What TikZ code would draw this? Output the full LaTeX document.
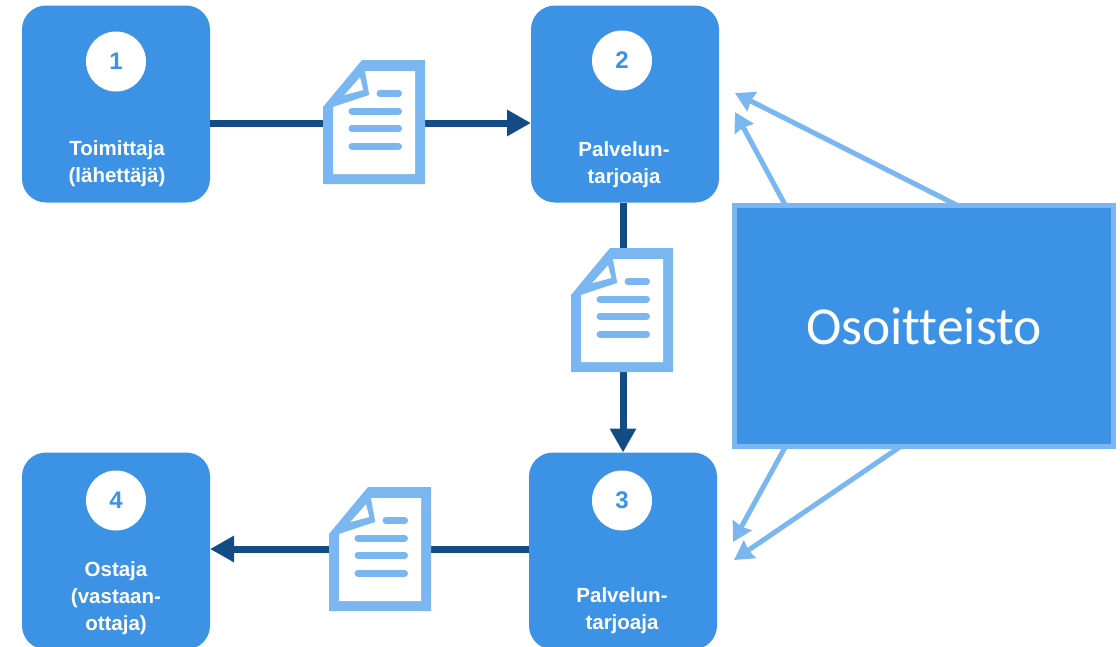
\documentclass[tikz,border=0pt]{standalone}
\usepackage{fontspec}
\setmainfont{Liberation Sans}
\newfontfamily\addrfont[Ligatures=NoCommon]{Carlito}
\usetikzlibrary{arrows.meta,positioning,calc}

\definecolor{boxblue}{HTML}{3C92E5}
\definecolor{lightblue}{HTML}{7AB7F0}
\definecolor{darkblue}{HTML}{134C84}

\begin{document}
\begin{tikzpicture}[x=1pt,y=-1pt]

\tikzset{every node/.style = {inner sep=0,outer sep=0}}
\tikzstyle{party} = [rectangle, rounded corners=24pt, fill=boxblue, minimum width=188pt, minimum height=197pt]
\tikzstyle{badge} = [circle, fill=white, minimum size=60pt, text=boxblue, font=\fontsize{24}{28}\selectfont\bfseries]
\tikzstyle{caption} = [text=white, align=center, font=\fontsize{20.5}{27}\selectfont\bfseries]
\tikzstyle{flow}  = [draw=darkblue, line width=7pt, -{Triangle[length=24pt,width=25pt]}]
\tikzstyle{lookup} = [draw=lightblue, line width=5pt, -{Stealth[length=19pt,width=21pt,inset=1.5pt]}]
\tikzset{doc/.pic = {
  \fill[lightblue] (-12,-62) -- (51,-62) -- (51,62) -- (-51,62) -- (-51,-15) -- cycle;
  \fill[white] (-41,52) -- (41,52) -- (41,-51) -- (-9,-51) -- (-4.7,-27) -- (-41,-15) -- cycle;
  \fill[white] (-14,-44.7) -- (-10.7,-32) -- (-29.7,-27) -- cycle;
  \draw[lightblue, line width=7pt, line cap=round] (6,-28.7) -- (24.5,-28.7);
  \foreach \y in {-11,6.3,24}
    \draw[lightblue, line width=7pt, line cap=round] (-22,\y) -- (24.5,\y);
}}

\path[use as bounding box, clip] (0,0) rectangle (1120,646);

\node[party] (box1) at (116,104)            {};
\node[party] (box2) [right=321pt of box1]   {};
\node[party] (box3) [below=250pt of box2, xshift=-2pt] {};
\node[party] (box4) [left=319pt of box3]    {};

\node[badge] (num1) [below=26pt of box1.north] {1};
\node[badge] (num2) [below=25pt of box2.north, xshift=-3pt] {2};
\node[badge] (num3) [below=18pt of box3.north, xshift=-1pt] {3};
\node[badge] (num4) [below=18pt of box4.north] {4};

\node[caption] (cap1) at (117,164) {Toimittaja\\(lähettäjä)};
\node[caption] (cap2) at (624,165) {Palvelun-\\tarjoaja};
\node[caption] (cap3) at (622,611) {Palvelun-\\tarjoaja};
\node[caption] (cap4) at (116,598) {Ostaja\\(vastaan-\\ottaja)};

\node[rectangle, draw=lightblue, line width=5pt, fill=boxblue, minimum width=379pt, minimum height=241pt,
      text=white, font=\addrfont\fontsize{53.4}{60}\selectfont] (addr) at (924,326) {Osoitteisto};

\draw[flow] ($(box1.east) + (0,19)$)  -- ($(box2.west) + (0,19)$);
\draw[flow] ($(box2.south) - (2,0)$)  -- (box3.north);
\draw[flow] ($(box3.west) - (0,2)$)   -- ($(box4.east) - (0,2)$);

\pic (doc1) at (374,122) {doc};
\pic (doc2) at (622,310) {doc};
\pic (doc3) at (380,549) {doc};

\coordinate (tip_a) at ($(box2.east) + (16,-11)$);
\coordinate (tip_b) at ($(box2.east) + (16,8)$);
\coordinate (tip_c) at ($(box3.east) + (16,-9)$);
\coordinate (tip_d) at ($(box3.east) + (17,9)$);

\draw[lookup] ($(addr.north west) + (223,0)$) -- (tip_a);
\draw[lookup] ($(addr.north west) + (51,0)$)  -- (tip_b);
\draw[lookup] ($(addr.south west) + (51,0)$)  -- (tip_c);
\draw[lookup] ($(addr.south west) + (166,0)$) -- (tip_d);

\end{tikzpicture}
\end{document}
